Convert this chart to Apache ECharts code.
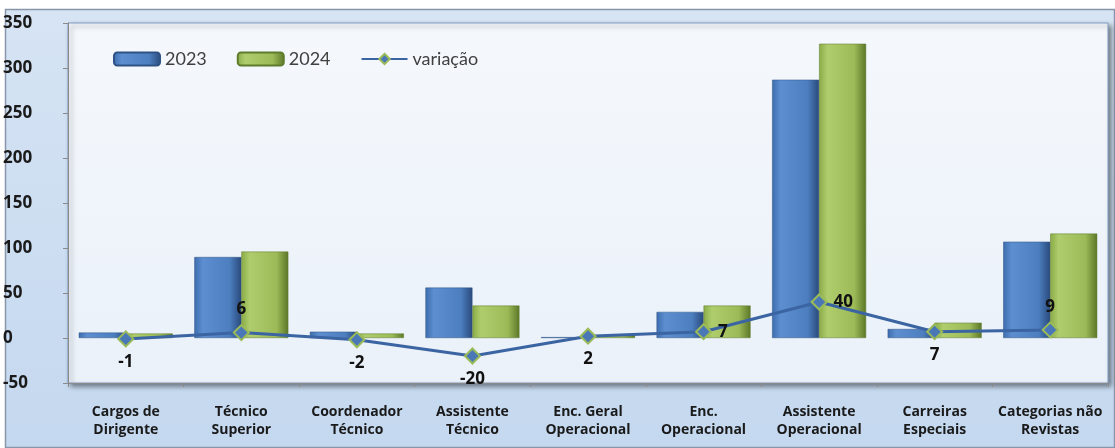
<!DOCTYPE html>
<html>
<head>
<meta charset="utf-8">
<title>2023 vs 2024</title>
<script src="https://cdn.jsdelivr.net/npm/echarts@6/dist/echarts.min.js"></script>
<style>
  html, body { margin: 0; padding: 0; background: #fff; }
  #chart { width: 1115px; height: 448px; }
</style>
</head>
<body>
<div id="chart"></div>
<script>
// data
const categories = [
  'Cargos de\nDirigente', 'Técnico\nSuperior', 'Coordenador\nTécnico',
  'Assistente\nTécnico', 'Enc. Geral\nOperacional', 'Enc.\nOperacional',
  'Assistente\nOperacional', 'Carreiras\nEspeciais', 'Categorias não\nRevistas'
]
const values2023 = [6, 90, 7, 56, 1, 29, 287, 10, 107]
const values2024 = [5, 96, 5, 36, 3, 36, 327, 17, 116]
const variacao = [-1, 6, -2, -20, 2, 7, 40, 7, 9]

// where each variation label sits (style only)
const labelPlace = ['bottom', 'top', 'bottom', 'bottom', 'bottom', 'right', 'right', 'bottom', 'top']

const font = 'Lato, "Open Sans", sans-serif'
const boldFont = '"Open Sans", Lato, sans-serif'

function barGradient(c0, c1, c2, c3) {
  return new echarts.graphic.LinearGradient(0, 0, 1, 0, [
    { offset: 0, color: c0 },
    { offset: 0.18, color: c1 },
    { offset: 0.75, color: c2 },
    { offset: 1, color: c3 }
  ])
}

const chart = echarts.init(document.getElementById('chart'))

chart.setOption({
  backgroundColor: 'transparent',
  animation: false,
  graphic: [{
    type: 'rect',
    z: -10,
    shape: { x: 5.5, y: 9.5, width: 1109, height: 438 },
    style: {
      fill: new echarts.graphic.LinearGradient(0, 0, 0, 1, [
        { offset: 0, color: '#d6e4f4' },
        { offset: 1, color: '#c4d8ef' }
      ]),
      stroke: '#8796aa',
      lineWidth: 1.5
    }
  }],
  grid: {
    left: 66,
    right: 7,
    top: 23,
    bottom: 65,
    show: true,
    backgroundColor: new echarts.graphic.LinearGradient(0, 0, 0, 1, [
      { offset: 0, color: '#f5f8fc' },
      { offset: 1, color: '#eaf1f9' }
    ]),
    borderColor: '#7f9cc2',
    borderWidth: 1,
    shadowColor: 'rgba(0,0,0,0.45)',
    shadowBlur: 5,
    shadowOffsetX: 3,
    shadowOffsetY: 3
  },
  legend: {
    left: 108,
    top: 45,
    itemWidth: 46,
    itemHeight: 13,
    itemGap: 30,
    textStyle: { fontFamily: font, fontSize: 18, color: '#404040' },
    data: ['2023', '2024', 'variação']
  },
  xAxis: [{
    type: 'category',
    data: categories,
    axisLine: { show: false },
    axisTick: { show: false },
    axisLabel: {
      margin: 20,
      interval: 0,
      fontFamily: boldFont,
      fontWeight: 'bold',
      fontSize: 14,
      lineHeight: 18,
      color: '#1a1a1a'
    }
  }, {
    type: 'category',
    data: categories,
    position: 'bottom',
    axisLine: { onZero: true, lineStyle: { color: '#8a8a8a', width: 1 } },
    axisTick: { show: true, length: 4, lineStyle: { color: '#8a8a8a' } },
    axisLabel: { show: false }
  }],
  yAxis: {
    type: 'value',
    min: -50,
    max: 350,
    interval: 50,
    axisLine: { show: true, lineStyle: { color: '#8a8a8a' } },
    axisTick: { show: true, length: 5, lineStyle: { color: '#8a8a8a' } },
    splitLine: { show: false },
    axisLabel: {
      align: 'left',
      margin: 65,
      fontFamily: boldFont,
      fontWeight: 'bold',
      fontSize: 17,
      color: '#1a1a1a'
    }
  },
  series: [{
    name: '2023',
    type: 'bar',
    data: values2023,
    barWidth: 47,
    barGap: '0%',
    itemStyle: {
      color: barGradient('#3c6cad', '#5d8fd0', '#4d7fc0', '#294a7c'),
      borderColor: '#2f5285',
      borderWidth: 0.5
    }
  }, {
    name: '2024',
    type: 'bar',
    data: values2024,
    barWidth: 47,
    barGap: '0%',
    itemStyle: {
      color: barGradient('#8aab48', '#afcd6c', '#9cba57', '#5b7728'),
      borderColor: '#5f7b2c',
      borderWidth: 0.5
    }
  }, {
    name: 'variação',
    type: 'line',
    z: 5,
    data: variacao.map((v, i) => ({
      value: v,
      label: { position: labelPlace[i] }
    })),
    symbol: 'diamond',
    symbolSize: 15,
    lineStyle: { color: '#3b64a2', width: 3 },
    itemStyle: { color: '#4a78b6', borderColor: '#9bbb59', borderWidth: 2 },
    label: {
      show: true,
      distance: 6,
      fontFamily: boldFont,
      fontWeight: 'bold',
      fontSize: 17,
      color: '#111'
    }
  }]
})
</script>
</body>
</html>
